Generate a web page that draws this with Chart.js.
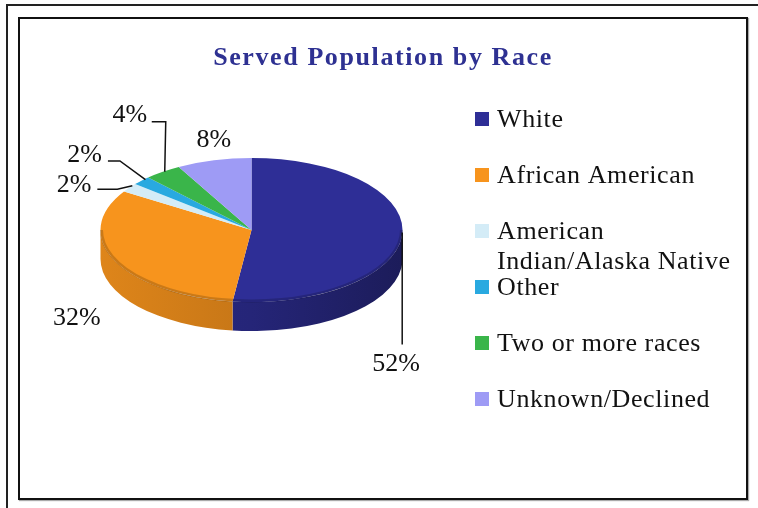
<!DOCTYPE html>
<html>
<head>
<meta charset="utf-8">
<title>Served Population by Race</title>
<script src="https://cdn.jsdelivr.net/npm/chart.js@4.4.1/dist/chart.umd.min.js"></script>
<style>
  html, body { margin: 0; padding: 0; background: #fff; overflow: hidden; }
  #wrap { position: relative; width: 758px; height: 508px; }
  .outer { position: absolute; left: 6px; top: 4px; right: -20px; bottom: -20px;
           border-left: 2px solid #222; border-top: 2px solid #222; }
  .inner { position: absolute; left: 18px; top: 17px; width: 726px; height: 479px;
           border: 2px solid #111; box-shadow: 1px 1px 1px #aaa; }
  canvas { position: absolute; left: 0; top: 0; }
</style>
</head>
<body>
<div id="wrap">
  <div class="outer"></div>
  <div class="inner"></div>
  <canvas id="chart" width="758" height="508"></canvas>
</div>
<script>
const chartTitle = 'Served Population by Race';
const races = ['White', 'African American', ['American', 'Indian/Alaska Native'], 'Other', 'Two or more races', 'Unknown/Declined'];
const shares = [52, 32, 2, 2, 4, 8];
const sliceColors = ['#2E2E96', '#F7941D', '#D4ECF7', '#29A9E0', '#3AB54A', '#9E9BF5'];

// where each percentage sits, relative to the rim point at the middle of its slice
const labelSpots = [
  { at: [-6, 136], align: 'center', leader: [[0, -2], [0, 110]] },
  { at: [-38, 64], align: 'center', leader: null },
  { at: [-38, 4.5], align: 'right', leader: [[3, -2], [-12, 1.5], [-32, 1.5]] },
  { at: [-39.5, -18.7], align: 'right', leader: [[4, -1], [-21.5, -19.7], [-33.5, -19.7]] },
  { at: [-15.7, -49.8], align: 'right', leader: [[2, 0], [3, -50], [-11, -50]] },
  { at: [0, -13], align: 'center', leader: null }
];

const tilt = 0.477;   // vertical squash of the pie top
const depth = 29;     // thickness of the pie side
const serif = '"Liberation Serif", "Times New Roman", serif';

function shade(hex, f) {
  const n = parseInt(hex.slice(1), 16);
  const r = Math.round(((n >> 16) & 255) * f);
  const g = Math.round(((n >> 8) & 255) * f);
  const b = Math.round((n & 255) * f);
  return `rgb(${r},${g},${b})`;
}

// parts of an arc that face the viewer (lower half of the ellipse)
function frontSpans(a, b) {
  const spans = [];
  for (const base of [-2 * Math.PI, 0, 2 * Math.PI]) {
    const s = Math.max(a, base), e = Math.min(b, base + Math.PI);
    if (e > s) spans.push([s, e]);
  }
  return spans;
}

const pie3d = {
  id: 'pie3d',
  beforeDatasetsDraw(chart) {
    const ctx = chart.ctx;
    const arcs = chart.getDatasetMeta(0).data;
    const cx = arcs[0].x, cy = arcs[0].y, r = arcs[0].outerRadius, ry = r * tilt;
    const colors = chart.data.datasets[0].backgroundColor;

    arcs.forEach((arc, i) => {
      frontSpans(arc.startAngle, arc.endAngle).forEach(([a, b]) => {
        const g = ctx.createLinearGradient(cx - r, 0, cx + r, 0);
        g.addColorStop(0, shade(colors[i], 0.9));
        g.addColorStop(0.5, shade(colors[i], 0.8));
        g.addColorStop(1, shade(colors[i], 0.6));
        ctx.beginPath();
        ctx.ellipse(cx, cy, r, ry, 0, a, b);
        ctx.ellipse(cx, cy + depth, r, ry, 0, b, a, true);
        ctx.closePath();
        ctx.fillStyle = g;
        ctx.fill();
      });
    });

    ctx.save();
    ctx.translate(cx, cy);
    ctx.scale(1, tilt);
    ctx.translate(-cx, -cy);
  },
  afterDatasetsDraw(chart) {
    const ctx = chart.ctx;
    ctx.restore();

    const arcs = chart.getDatasetMeta(0).data;
    const cx = arcs[0].x, cy = arcs[0].y, r = arcs[0].outerRadius, ry = r * tilt;
    const values = chart.data.datasets[0].data;
    const total = values.reduce((s, v) => s + v, 0);

    // soft rim on the top face
    ctx.save();
    ctx.beginPath();
    ctx.ellipse(cx, cy, r - 1, ry - 1, 0, 0, Math.PI);
    ctx.strokeStyle = 'rgba(0,0,0,0.18)';
    ctx.lineWidth = 3;
    ctx.stroke();
    ctx.restore();

    ctx.save();
    ctx.font = `26px ${serif}`;
    ctx.fillStyle = '#111';
    ctx.strokeStyle = '#111';
    ctx.lineWidth = 1.5;
    ctx.textBaseline = 'alphabetic';
    arcs.forEach((arc, i) => {
      const mid = (arc.startAngle + arc.endAngle) / 2;
      const px = cx + r * Math.cos(mid), py = cy + ry * Math.sin(mid);
      const spot = labelSpots[i];
      if (spot.leader) {
        ctx.beginPath();
        spot.leader.forEach(([dx, dy], k) => {
          if (k === 0) ctx.moveTo(px + dx, py + dy); else ctx.lineTo(px + dx, py + dy);
        });
        ctx.stroke();
      }
      ctx.textAlign = spot.align;
      ctx.fillText(Math.round(values[i] / total * 100) + '%', px + spot.at[0], py + spot.at[1]);
    });
    ctx.restore();
  },
  afterDraw(chart) {
    const ctx = chart.ctx;
    ctx.save();
    // title
    ctx.font = `bold 26px ${serif}`;
    ctx.letterSpacing = '1.6px';
    ctx.fillStyle = '#2E3192';
    ctx.textAlign = 'center';
    ctx.fillText(chartTitle, 383, 65);

    // legend
    const colors = chart.data.datasets[0].backgroundColor;
    ctx.font = `26px ${serif}`;
    ctx.letterSpacing = '0.6px';
    ctx.textAlign = 'left';
    chart.data.labels.forEach((label, i) => {
      const base = 127 + i * 56;
      ctx.fillStyle = colors[i];
      ctx.fillRect(475, base - 15, 14, 14);
      ctx.fillStyle = '#111';
      [].concat(label).forEach((line, k) => ctx.fillText(line, 497, base + k * 30));
    });
    ctx.restore();
  }
};

new Chart(document.getElementById('chart'), {
  type: 'pie',
  data: {
    labels: races,
    datasets: [{
      data: shares,
      backgroundColor: sliceColors,
      borderWidth: 0,
      clip: false
    }]
  },
  options: {
    responsive: false,
    animation: false,
    events: [],
    layout: { padding: { left: 100, right: 355, top: 79, bottom: 127 } },
    plugins: {
      legend: { display: false },
      title: { display: false },
      tooltip: { enabled: false }
    }
  },
  plugins: [pie3d]
});
</script>
</body>
</html>
